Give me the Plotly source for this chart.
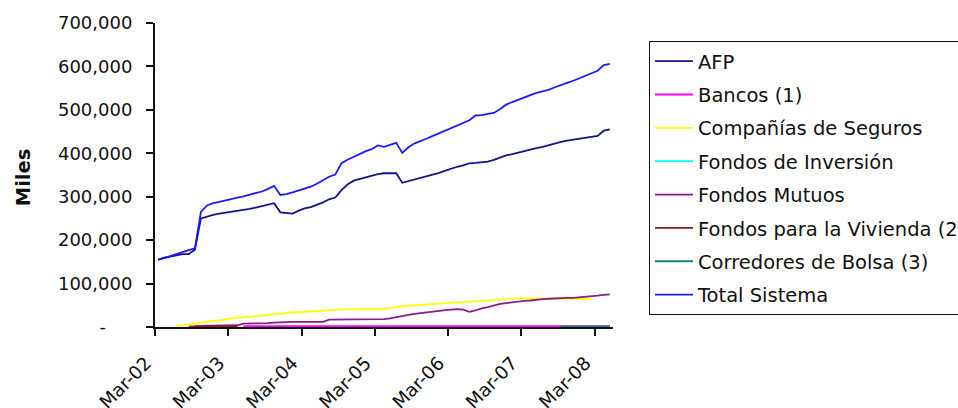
import pandas as pd
import plotly.graph_objects as go

# Monthly observations, Mar-2002 .. May-2008 (75 months), in thousands of pesos (Miles)
months = pd.date_range("2002-03-01", periods=75, freq="MS") + pd.Timedelta(days=15)

afp = [155000, 159000, 162000, 165000, 168000, 168000, 178000, 250000, 255000, 258000,
       261000, 263000, 265000, 267000, 270000, 272000, 275000, 278000, 281000, 285000,
       264000, 263000, 261000, 268000, 273000, 276000, 281000, 287000, 294000, 298000,
       315000, 328000, 337000, 341000, 345000, 349000, 352000, 354000, 354000, 354000,
       332000, 336000, 340000, 343000, 347000, 350000, 355000, 360000, 365000, 369000,
       372000, 377000, 378000, 379000, 381000, 385000, 390000, 395000, 398000, 402000,
       405000, 409000, 412000, 415000, 419000, 422000, 426000, 429000, 431000, 433000,
       435000, 438000, 440000, 452000, 455000]

bancos = [None] * 14 + [2000] * 61

seguros = [None, None, None, 2000, 4000, 7000, 8000, 10000, 13000, 14000,
           15000, 18000, 20000, 21000, 22000, 24000, 25000, 26000, 28000, 30000,
           31000, 32000, 34000, 34000, 35000, 36000, 37000, 38000, 39000, 40000,
           41000, 41000, 41000, 41000, 41000, 41000, 41000, 42000, 44000, 46000,
           47000, 49000, 50000, 51000, 53000, 54000, 55000, 56000, 56000, 57000,
           58000, 58000, 59000, 60000, 62000, 62000, 63000, 65000, 66000, 66000,
           66000, 66000, 66000, 66000, 66000, 66000, 66000, 66000, 65000, 65000,
           64000, 64000, None, None, None]

inversion = [None] * 75

mutuos = [None, None, None, None, None, 1000, 2000, 3000, 3000, 3000,
          3000, 3000, 4000, 4000, 8000, 8000, 9000, 9000, 9000, 10000,
          11000, 12000, 12000, 12000, 12000, 12000, 12000, 12000, 17000, 17000,
          17000, 17000, 17000, 17000, 17000, 17000, 17000, 18000, 20000, 23000,
          25000, 28000, 30000, 32000, 34000, 35000, 37000, 39000, 40000, 41000,
          40000, 35000, 38000, 43000, 46000, 50000, 53000, 55000, 57000, 59000,
          60000, 61000, 63000, 64000, 65000, 66000, 66000, 67000, 67000, 68000,
          69000, 71000, 72000, 74000, 75000]

vivienda = [None] * 6 + [1500] * 8 + [None] * 61

corredores = [None] * 66 + [1500] * 9

total = [155000, 160000, 163000, 168000, 173000, 177000, 181000, 265000, 280000, 285000,
         288000, 292000, 295000, 298000, 301000, 305000, 308000, 312000, 318000, 325000,
         304000, 306000, 310000, 315000, 319000, 323000, 330000, 338000, 346000, 351000,
         377000, 385000, 392000, 399000, 405000, 410000, 418000, 415000, 420000, 424000,
         401000, 414000, 423000, 428000, 434000, 440000, 446000, 452000, 457000, 463000,
         470000, 476000, 487000, 488000, 491000, 493000, 502000, 512000, 518000, 524000,
         529000, 534000, 539000, 543000, 546000, 552000, 558000, 562000, 567000, 573000,
         579000, 586000, 590000, 603000, 606000]

series_names = ["AFP", "Bancos (1)", "Compañías de Seguros", "Fondos de Inversión",
                "Fondos Mutuos", "Fondos para la Vivienda (2)", "Corredores de Bolsa (3)",
                "Total Sistema"]
series_values = [afp, bancos, seguros, inversion, mutuos, vivienda, corredores, total]
series_colors = ["#14148a", "#ff00ff", "#ffff00", "#00ffff", "#8b1a8b", "#8b1a1a",
                 "#118080", "#1a1aff"]

tick_dates = pd.date_range("2002-03-01", periods=7, freq="12MS")
tick_text = ["Mar-02", "Mar-03", "Mar-04", "Mar-05", "Mar-06", "Mar-07", "Mar-08"]
y_ticks = [0, 100000, 200000, 300000, 400000, 500000, 600000, 700000]
y_text = ["-\u00a0\u00a0\u00a0\u00a0\u2009", "100,000", "200,000", "300,000", "400,000",
          "500,000", "600,000", "700,000"]

FONT = "DejaVu Sans, Arial, sans-serif"

fig = go.Figure()
for i, (name, vals, col) in enumerate(zip(series_names, series_values, series_colors)):
    fig.add_trace(go.Scatter(
        x=months, y=vals, name=name, mode="lines",
        line=dict(color=col, width=1.8),
        legendgroup=f"g{i}", connectgaps=False,
    ))

# vertical axis caption
fig.add_annotation(
    text="<b>Miles</b>", textangle=-90,
    xref="paper", yref="paper", x=-0.288, y=0.493,
    xanchor="center", yanchor="middle", showarrow=False,
    font=dict(family=FONT, size=19.5, color="#111"),
)

fig.update_layout(
    width=958, height=408,
    margin=dict(l=155, r=345, t=23, b=81, autoexpand=False),
    paper_bgcolor="white", plot_bgcolor="white",
    font=dict(family=FONT, size=18, color="#111"),
    showlegend=True,
    legend=dict(
        x=1.0786, y=0.9408, xanchor="left", yanchor="top",
        bordercolor="#111", borderwidth=1, bgcolor="white",
        font=dict(family=FONT, size=19.5, color="#111"),
        tracegroupgap=5, itemwidth=38,
    ),
    xaxis=dict(
        type="date", range=["2002-03-01", "2008-06-01"],
        tickvals=list(tick_dates), ticktext=tick_text, tickangle=-45,
        ticks="outside", ticklen=7, tickwidth=2, tickcolor="#111",
        showline=True, linecolor="#111", linewidth=2,
        showgrid=False, zeroline=False,
        tickfont=dict(family=FONT, size=18.5, color="#111"),
        ticklabelstandoff=9, ticklabelshift=-9,
    ),
    yaxis=dict(
        range=[0, 700000], tickvals=y_ticks, ticktext=y_text,
        ticks="outside", ticklen=7, tickwidth=2, tickcolor="#111",
        showline=True, linecolor="#111", linewidth=2,
        showgrid=False, zeroline=False,
        tickfont=dict(family=FONT, size=18, color="#111"),
        ticklabelstandoff=10,
    ),
)

fig.write_html("out.html")
